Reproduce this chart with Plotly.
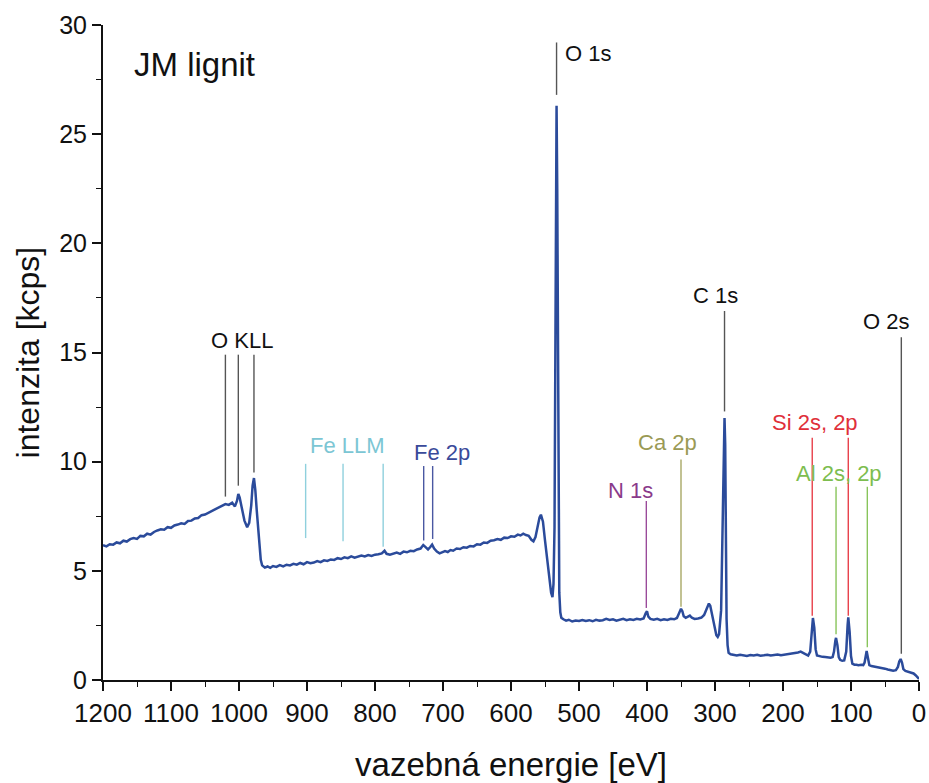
import plotly.graph_objects as go

# ---- spectrum (binding energy [eV], intensity [kcps]) ----
energy = [1200, 1195, 1190, 1185, 1180, 1175, 1170, 1165, 1160, 1155, 1150, 1145, 1140, 1135, 1130,
          1125, 1120, 1115, 1110, 1105, 1100, 1095, 1090, 1085, 1080, 1075, 1070, 1065, 1060, 1055,
          1050, 1045, 1040, 1035, 1030, 1025, 1020, 1015, 1010, 1006, 1003, 1001, 999, 996, 992,
          988, 985, 982, 980, 978, 976, 974, 972, 970, 968, 966, 962, 958, 954, 950, 945, 940, 935,
          930, 925, 920, 915, 910, 905, 900, 895, 890, 885, 880, 875, 870, 865, 860, 855, 850, 845,
          840, 835, 830, 825, 820, 815, 810, 805, 800, 795, 790, 786, 783, 778, 773, 768, 763, 758,
          753, 748, 743, 738, 733, 729, 726, 722, 719, 716, 713, 709, 705, 701, 697, 693, 689, 685,
          680, 675, 670, 665, 660, 655, 650, 645, 640, 635, 630, 625, 620, 615, 610, 605, 600, 595,
          590, 586, 582, 578, 574, 570, 567, 564, 561, 558, 556, 553, 550, 547, 544, 541, 539, 537.5,
          536, 535, 534, 533, 532, 531, 530, 529, 527.5, 526, 523, 519, 515, 510, 505, 500, 495, 490,
          485, 480, 475, 470, 465, 460, 455, 450, 445, 440, 435, 430, 425, 420, 415, 410, 405, 402,
          400, 398, 395, 390, 385, 380, 375, 370, 365, 360, 356, 353, 350, 348, 346, 343, 340, 337,
          334, 330, 325, 320, 316, 312, 309, 307, 304, 301, 298, 296, 294, 291, 289, 287.5, 286, 285,
          284, 283, 281.5, 280, 277, 273, 268, 263, 258, 253, 248, 243, 238, 233, 228, 223, 218, 213,
          208, 203, 198, 193, 188, 183, 178, 174, 171, 167, 163, 160, 158, 156, 154, 152, 150, 146,
          142, 138, 134, 130, 127, 125, 123, 122, 120, 118, 116, 113, 110, 107, 105, 104, 102, 100,
          98, 95, 92, 89, 85, 82, 80, 78, 77, 75, 73, 70, 66, 62, 58, 54, 50, 46, 42, 38, 34, 31, 29,
          27, 25, 23, 20, 16, 12, 8, 5, 2, 0]
intensity = [6.18, 6.12, 6.22, 6.20, 6.30, 6.26, 6.38, 6.34, 6.45, 6.50, 6.46, 6.60, 6.58, 6.70, 6.66,
             6.78, 6.85, 6.90, 6.88, 7.00, 6.97, 7.08, 7.12, 7.18, 7.15, 7.28, 7.30, 7.40, 7.42, 7.55,
             7.58, 7.66, 7.75, 7.82, 7.90, 7.98, 8.06, 8.02, 8.12, 7.95, 8.20, 8.52, 8.35, 7.90, 7.30,
             7.00, 7.20, 8.00, 8.90, 9.25, 8.70, 7.80, 6.90, 6.10, 5.50, 5.25, 5.15, 5.20, 5.14, 5.22,
             5.18, 5.26, 5.20, 5.28, 5.25, 5.32, 5.28, 5.36, 5.30, 5.40, 5.35, 5.38, 5.45, 5.40, 5.48,
             5.45, 5.52, 5.50, 5.58, 5.54, 5.62, 5.58, 5.66, 5.60, 5.64, 5.70, 5.66, 5.72, 5.68, 5.74,
             5.76, 5.80, 5.92, 5.78, 5.74, 5.80, 5.84, 5.78, 5.88, 5.85, 5.92, 5.90, 5.98, 6.02, 6.18,
             6.10, 5.98, 6.08, 6.20, 6.02, 5.88, 5.80, 5.84, 5.90, 5.86, 5.95, 5.92, 6.02, 6.00, 6.08,
             6.06, 6.14, 6.12, 6.22, 6.20, 6.30, 6.28, 6.38, 6.40, 6.46, 6.42, 6.52, 6.50, 6.58, 6.56,
             6.66, 6.62, 6.70, 6.64, 6.60, 6.42, 6.35, 6.55, 7.05, 7.45, 7.57, 7.25, 6.40, 5.50, 4.60,
             4.00, 3.80, 4.40, 7.00, 13.0, 21.0, 26.3, 22.5, 13.0, 6.5, 4.0, 3.10, 2.85, 2.78, 2.72,
             2.76, 2.68, 2.72, 2.70, 2.75, 2.70, 2.74, 2.69, 2.76, 2.72, 2.74, 2.80, 2.75, 2.78, 2.72,
             2.76, 2.80, 2.74, 2.78, 2.75, 2.80, 2.77, 2.82, 3.05, 3.15, 2.90, 2.80, 2.76, 2.80, 2.74,
             2.78, 2.75, 2.80, 2.78, 2.84, 3.05, 3.26, 3.15, 2.92, 2.85, 2.90, 2.95, 2.85, 2.80, 2.82,
             2.86, 2.98, 3.30, 3.50, 3.40, 2.90, 2.40, 2.05, 1.97, 2.10, 3.20, 6.50, 10.5, 12.0, 10.8,
             6.0, 2.8, 1.60, 1.25, 1.18, 1.15, 1.12, 1.16, 1.13, 1.10, 1.14, 1.12, 1.15, 1.11, 1.13,
             1.16, 1.12, 1.14, 1.17, 1.13, 1.15, 1.18, 1.20, 1.22, 1.26, 1.30, 1.25, 1.15, 1.12, 1.30,
             2.00, 2.84, 2.40, 1.40, 1.12, 1.08, 1.06, 1.05, 1.03, 1.02, 1.05, 1.30, 1.80, 1.93, 1.60,
             1.05, 0.92, 0.88, 0.90, 1.30, 2.50, 2.87, 2.20, 1.10, 0.75, 0.70, 0.70, 0.68, 0.70, 0.68,
             0.80, 1.20, 1.33, 1.00, 0.68, 0.64, 0.62, 0.60, 0.58, 0.55, 0.52, 0.48, 0.45, 0.42, 0.45,
             0.60, 0.85, 0.96, 0.80, 0.50, 0.42, 0.38, 0.33, 0.30, 0.22, 0.10, 0.05]

# ---- peak assignments ----
label_names = ["O KLL", "Fe LLM", "Fe 2p", "O 1s", "N 1s", "Ca 2p", "C 1s", "Si 2s, 2p", "Al 2s, 2p", "O 2s"]
label_x = [995, 841, 702, 524, 424, 370, 300, 153, 117.5, 48]
label_y = [15.55, 10.75, 10.4, 28.7, 8.7, 10.9, 17.6, 11.8, 9.45, 16.4]
label_colors = ["#111111", "#7cc6d4", "#3a4a9a", "#111111", "#8a3a8a", "#9a9a55", "#111111",
                "#e0303a", "#7dbd4f", "#111111"]
line_colors = ["#555555", "#8fd0dd", "#4a58a2", "#555555", "#9a4a9a", "#a8a865", "#555555",
               "#e8404a", "#88c45a", "#555555"]
marker_x = [[1020, 1001, 978], [902, 847, 788], [728.4, 715.2], [533], [401], [350], [286],
            [157, 104], [122, 76], [26]]
marker_top = [[14.9, 14.9, 14.9], [9.9, 9.9, 9.9], [9.8, 9.8], [29.2], [8.2], [10.1], [16.9],
              [11.1, 11.1], [8.85, 8.85], [15.7]]
marker_bottom = [[8.4, 8.9, 9.5], [6.5, 6.35, 6.1], [6.39, 6.46], [26.8], [3.3], [3.35], [12.3],
                 [2.94, 2.94], [2.1, 1.5], [1.2]]

x_ticks = list(range(0, 1201, 100))
y_ticks = [0, 5, 10, 15, 20, 25, 30]

FONT = "Liberation Sans, Arial, sans-serif"

fig = go.Figure()

# marker lines
for name, xs, tops, bots, col in zip(label_names, marker_x, marker_top, marker_bottom, line_colors):
    lx, ly = [], []
    for xv, t, b in zip(xs, tops, bots):
        lx += [xv, xv, None]
        ly += [b, t, None]
    fig.add_trace(go.Scatter(x=lx, y=ly, mode="lines", line=dict(color=col, width=1.4),
                             showlegend=False, hoverinfo="skip"))

fig.add_trace(go.Scatter(x=energy, y=intensity, mode="lines",
                         line=dict(color="#2b4b9b", width=2.5), showlegend=False))

for name, lx, ly, col in zip(label_names, label_x, label_y, label_colors):
    fig.add_annotation(x=lx, y=ly, text=name, showarrow=False,
                       xanchor="left" if name == "O 1s" else "center", yanchor="middle",
                       font=dict(family=FONT, size=22, color=col))

fig.add_annotation(x=0.036, y=0.94, xref="paper", yref="paper", text="JM lignit", showarrow=False,
                   xanchor="left", yanchor="middle", font=dict(family=FONT, size=33, color="#111111"))

# y-axis title (placed as rotated text for exact position)
fig.add_annotation(x=-0.092, y=0.5, xref="paper", yref="paper", text="intenzita [kcps]",
                   showarrow=False, textangle=-90, xanchor="center", yanchor="middle",
                   font=dict(family=FONT, size=32, color="#111111"))

fig.update_layout(
    width=929, height=783, autosize=False,
    margin=dict(l=103, r=10, t=25, b=103),
    paper_bgcolor="white", plot_bgcolor="white",
    font=dict(family=FONT, color="#111111"),
)
fig.update_xaxes(range=[1200, 0], tickvals=x_ticks, ticktext=[str(v) for v in x_ticks],
                 automargin=False,
                 showgrid=False, zeroline=False, showline=True, linecolor="#111111", linewidth=2,
                 ticks="outside", ticklen=9, tickwidth=1.6, tickcolor="#111111",
                 minor=dict(ticks="outside", ticklen=5, tickwidth=1.4, tickcolor="#111111", dtick=50,
                            tick0=0, showgrid=False),
                 tickfont=dict(family=FONT, size=26, color="#111111"),
                 title=dict(text="vazebná energie [eV]", font=dict(family=FONT, size=33, color="#111111"),
                            standoff=26))
fig.update_yaxes(range=[0, 30], tickvals=y_ticks, showgrid=False, zeroline=False, showline=True,
                 automargin=False,
                 linecolor="#111111", linewidth=2,
                 ticks="outside", ticklen=9, tickwidth=1.6, tickcolor="#111111",
                 minor=dict(ticks="outside", ticklen=5, tickwidth=1.4, tickcolor="#111111", dtick=2.5,
                            tick0=0, showgrid=False),
                 tickfont=dict(family=FONT, size=25, color="#111111"))

fig.write_html("out.html", config={"displayModeBar": False},
               post_script="document.body.style.margin='0';document.body.style.overflow='hidden';")
